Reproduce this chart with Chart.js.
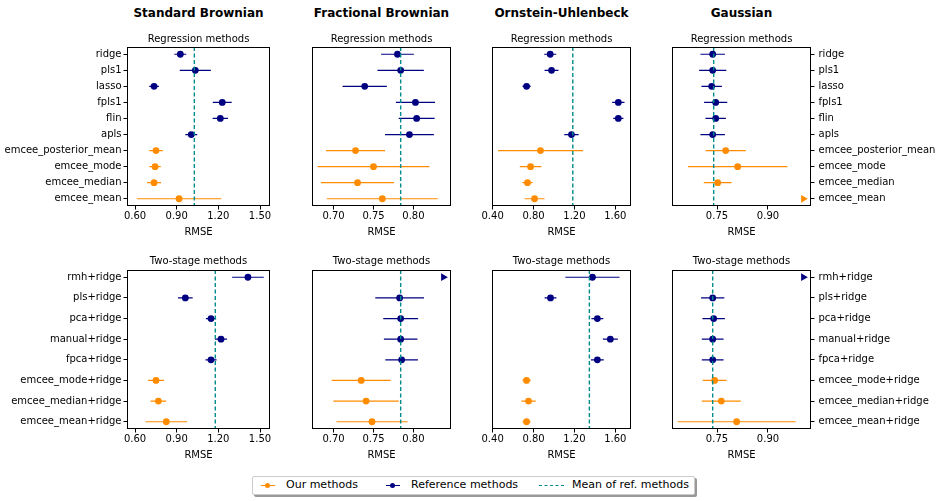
<!DOCTYPE html>
<html>
<head>
<meta charset="utf-8">
<script src="https://cdn.jsdelivr.net/npm/chart.js@4"></script>
<style>
    body { margin: 0; width: 940px; height: 501px; position: relative; overflow: hidden; background: #fff; font-family: 'DejaVu Sans', sans-serif; color: #000; }
    canvas { position: absolute; }
    .col-title { position: absolute; top: 6px; width: 200px; text-align: center; font-weight: bold; font-size: 12px; line-height: 14px; }
    #legend { position: absolute; left: 252px; top: 476px; width: 441px; height: 17px; border: 1px solid #ccc; border-radius: 2px; background: #fff; box-shadow: 2px 2px 0 #999; font-size: 11px; }
    #legend span { position: absolute; top: 1px; line-height: 14px; white-space: nowrap; }
    #legend i { position: absolute; display: block; }
</style>
</head>
<body>
<div id="legend"></div>
<script>
    const regLabels = ['ridge', 'pls1', 'lasso', 'fpls1', 'flin', 'apls', 'emcee_posterior_mean', 'emcee_mode', 'emcee_median', 'emcee_mean'];
    const twoStageLabels = ['rmh+ridge', 'pls+ridge', 'pca+ridge', 'manual+ridge', 'fpca+ridge', 'emcee_mode+ridge', 'emcee_median+ridge', 'emcee_mean+ridge'];
    const processNames = ['Standard Brownian', 'Fractional Brownian', 'Ornstein-Uhlenbeck', 'Gaussian'];

    // mean RMSE and half-width of the error bar; null = beyond the axis (drawn as a ▶ at the edge)
    const sbRegRmse = [0.926, 1.034, 0.737, 1.228, 1.214, 1.005, 0.751, 0.744, 0.737, 0.917];
    const sbRegErr = [0.043, 0.112, 0.035, 0.068, 0.055, 0.043, 0.049, 0.041, 0.050, 0.304];
    const fbRegRmse = [0.780, 0.784, 0.739, 0.8025, 0.804, 0.795, 0.7275, 0.750, 0.730, 0.761];
    const fbRegErr = [0.0205, 0.029, 0.0277, 0.0245, 0.0225, 0.0306, 0.0369, 0.070, 0.0457, 0.0694];
    const ouRegRmse = [0.963, 0.976, 0.732, 1.629, 1.629, 1.171, 0.868, 0.771, 0.741, 0.810];
    const ouRegErr = [0.059, 0.068, 0.040, 0.060, 0.050, 0.070, 0.415, 0.105, 0.050, 0.097];
    const gaRegRmse = [0.7373, 0.7373, 0.7343, 0.7461, 0.7461, 0.7373, 0.7755, 0.8108, 0.752, null];
    const gaRegErr = [0.036, 0.040, 0.030, 0.034, 0.030, 0.036, 0.059, 0.146, 0.041, 0];

    const sbTwoRmse = [1.413, 0.962, 1.147, 1.219, 1.147, 0.751, 0.768, 0.825];
    const sbTwoErr = [0.114, 0.053, 0.037, 0.043, 0.040, 0.057, 0.056, 0.150];
    const fbTwoRmse = [null, 0.7827, 0.784, 0.784, 0.7852, 0.7346, 0.7407, 0.7481];
    const fbTwoErr = [0, 0.0305, 0.0218, 0.021, 0.0204, 0.037, 0.041, 0.0445];
    const ouTwoRmse = [1.376, 0.966, 1.424, 1.551, 1.424, 0.732, 0.751, 0.732];
    const ouTwoErr = [0.265, 0.058, 0.058, 0.073, 0.063, 0.040, 0.070, 0.040];
    const gaTwoRmse = [null, 0.7373, 0.7402, 0.7373, 0.7373, 0.7431, 0.7627, 0.8078];
    const gaTwoErr = [0, 0.0343, 0.033, 0.032, 0.032, 0.035, 0.0574, 0.1735];

    // dashed line: mean of the reference methods
    const regRefMeans = [1.027, 0.784, 1.184, 0.7402];
    const twoRefMeans = [1.178, 0.784, 1.346, 0.7373];

    // x axis per column (shared by both rows)
    const xMin = [0.542, 0.673, 0.394, 0.6176];
    const xMax = [1.572, 0.847, 1.753, 1.0265];
    const xTicks = [[0.60, 0.90, 1.20, 1.50], [0.70, 0.75, 0.80], [0.40, 0.80, 1.20, 1.60], [0.75, 0.90]];

    const ourColor = '#ff8c00';
    const refColor = '#000080';
    const meanColor = '#008b8b';

    Chart.defaults.font.family = "'DejaVu Sans', sans-serif";
    Chart.defaults.font.size = 10;
    Chart.defaults.color = '#000';

    const colBoxes = [
        { left: 0, width: 280, padL: 0, padR: 10, yWidth: 127, yPos: 'left' },
        { left: 290, width: 170, padL: 22, padR: 9, yWidth: 0, yPos: 'left' },
        { left: 470, width: 170, padL: 22, padR: 9, yWidth: 0, yPos: 'left' },
        { left: 650, width: 290, padL: 22, padR: 0, yWidth: 129, yPos: 'right' },
    ];
    const rowBoxes = [
        { top: 27, height: 215, title: 'Regression methods', titleGap: 5.5 },
        { top: 250, height: 215, title: 'Two-stage methods', titleGap: 6.5 },
    ];

    // box round the plot area
    const frame = {
        id: 'frame',
        afterDatasetsDraw(chart) {
            const { ctx, chartArea: a } = chart;
            ctx.save();
            ctx.strokeStyle = '#000';
            ctx.lineWidth = 1;
            ctx.strokeRect(Math.round(a.left) + 0.5, Math.round(a.top) + 0.5, Math.round(a.width) - 1, Math.round(a.height) - 1);
            ctx.restore();
        },
    };

    // panel title centred over the plot area, not the whole canvas
    const panelTitle = {
        id: 'panelTitle',
        afterDraw(chart, args, opts) {
            const { ctx, chartArea: a } = chart;
            ctx.save();
            ctx.font = "10px 'DejaVu Sans', sans-serif";
            ctx.fillStyle = '#000';
            ctx.textAlign = 'center';
            ctx.textBaseline = 'alphabetic';
            ctx.fillText(opts.text, (a.left + a.right) / 2, a.top - opts.gap);
            ctx.restore();
        },
    };

    const makePanel = (col, row, labels, rmse, err, refMean) => {
        const c = colBoxes[col];
        const r = rowBoxes[row];
        const canvas = document.createElement('canvas');
        canvas.width = c.width;
        canvas.height = r.height;
        canvas.style.left = c.left + 'px';
        canvas.style.top = r.top + 'px';
        document.body.appendChild(canvas);

        const lo = xMin[col];
        const hi = xMax[col];
        const yPad = (labels.length - 1) * 0.05;
        const edgeX = hi - 0.055 * (hi - lo);
        const rows = (ours) => labels.map((_, i) => i).filter((i) => labels[i].startsWith('emcee') === ours);

        const bars = (ours) => {
            const pts = [];
            rows(ours).forEach((i) => {
                if (rmse[i] === null) return;
                pts.push({ x: rmse[i] - err[i], y: i }, { x: rmse[i] + err[i], y: i }, { x: rmse[i], y: null });
            });
            return pts;
        };
        const dots = (ours) => rows(ours).filter((i) => rmse[i] !== null).map((i) => ({ x: rmse[i], y: i }));
        const offScale = (ours) => rows(ours).filter((i) => rmse[i] === null).map((i) => ({ x: edgeX, y: i }));

        const dotSet = (ours) => ({
            data: dots(ours),
            pointRadius: 3.4,
            backgroundColor: ours ? ourColor : refColor,
            borderColor: ours ? ourColor : refColor,
            borderWidth: 0,
        });
        const triSet = (ours) => ({
            data: offScale(ours),
            pointStyle: 'triangle',
            rotation: 90,
            pointRadius: 4.5,
            backgroundColor: ours ? ourColor : refColor,
            borderColor: ours ? ourColor : refColor,
            borderWidth: 0,
        });
        const barSet = (ours) => ({
            data: bars(ours),
            showLine: true,
            spanGaps: false,
            pointRadius: 0,
            borderColor: ours ? ourColor : refColor,
            borderWidth: 1.2,
        });

        new Chart(canvas.getContext('2d'), {
            type: 'scatter',
            data: {
                datasets: [
                    {
                        data: [{ x: refMean, y: -yPad }, { x: refMean, y: labels.length - 1 + yPad }],
                        showLine: true,
                        pointRadius: 0,
                        borderColor: meanColor,
                        borderWidth: 1.4,
                        borderDash: [4, 2.5],
                    },
                    dotSet(true),
                    dotSet(false),
                    triSet(true),
                    triSet(false),
                    barSet(true),
                    barSet(false),
                ],
            },
            options: {
                responsive: false,
                animation: false,
                events: [],
                layout: { padding: { left: c.padL, right: c.padR, top: 20, bottom: 0 } },
                plugins: {
                    legend: { display: false },
                    tooltip: { enabled: false },
                    title: { display: false },
                    panelTitle: { text: r.title, gap: r.titleGap },
                },
                scales: {
                    x: {
                        type: 'linear',
                        position: 'bottom',
                        min: lo,
                        max: hi,
                        afterBuildTicks(scale) {
                            scale.ticks = xTicks[col].map((v) => ({ value: v }));
                        },
                        afterFit(scale) {
                            scale.height = 36;
                        },
                        ticks: {
                            callback: (v) => Number(v).toFixed(2),
                            padding: 1,
                            maxRotation: 0,
                            autoSkip: false,
                        },
                        grid: { drawOnChartArea: false, tickLength: 3.5, tickColor: '#000', tickWidth: 1 },
                        border: { display: false },
                        title: { display: true, text: 'RMSE', font: { size: 10 }, padding: { top: 0, bottom: 4 } },
                    },
                    y: {
                        type: 'linear',
                        position: c.yPos,
                        reverse: true,
                        min: -yPad,
                        max: labels.length - 1 + yPad,
                        afterBuildTicks(scale) {
                            scale.ticks = labels.map((_, i) => ({ value: i }));
                        },
                        afterFit(scale) {
                            scale.width = c.yWidth;
                        },
                        ticks: {
                            display: c.yWidth > 0,
                            callback: (v) => labels[v],
                            padding: c.yPos === 'right' ? 4 : 2,
                            autoSkip: false,
                        },
                        grid: { display: c.yWidth > 0, drawOnChartArea: false, tickLength: 3.5, tickColor: '#000', tickWidth: 1 },
                        border: { display: false },
                    },
                },
            },
            plugins: [frame, panelTitle],
        });
    };

    makePanel(0, 0, regLabels, sbRegRmse, sbRegErr, regRefMeans[0]);
    makePanel(1, 0, regLabels, fbRegRmse, fbRegErr, regRefMeans[1]);
    makePanel(2, 0, regLabels, ouRegRmse, ouRegErr, regRefMeans[2]);
    makePanel(3, 0, regLabels, gaRegRmse, gaRegErr, regRefMeans[3]);
    makePanel(0, 1, twoStageLabels, sbTwoRmse, sbTwoErr, twoRefMeans[0]);
    makePanel(1, 1, twoStageLabels, fbTwoRmse, fbTwoErr, twoRefMeans[1]);
    makePanel(2, 1, twoStageLabels, ouTwoRmse, ouTwoErr, twoRefMeans[2]);
    makePanel(3, 1, twoStageLabels, gaTwoRmse, gaTwoErr, twoRefMeans[3]);

    // bold process names over each column
    processNames.forEach((name, col) => {
        const c = colBoxes[col];
        const areaLeft = c.left + c.padL + (c.yPos === 'left' ? c.yWidth : 0);
        const areaRight = c.left + c.width - c.padR - (c.yPos === 'right' ? c.yWidth : 0);
        const div = document.createElement('div');
        div.className = 'col-title';
        div.textContent = name;
        div.style.left = ((areaLeft + areaRight) / 2 - 100) + 'px';
        document.body.appendChild(div);
    });

    // legend
    const legend = document.getElementById('legend');
    legend.innerHTML =
        '<i style="left:8px;top:8px;width:14px;height:1.3px;background:' + ourColor + '"></i>' +
        '<i style="left:12px;top:6px;width:5px;height:5px;border-radius:50%;background:' + ourColor + '"></i>' +
        '<span style="left:33px">Our methods</span>' +
        '<i style="left:133px;top:8px;width:14px;height:1.3px;background:' + refColor + '"></i>' +
        '<i style="left:137px;top:6px;width:5px;height:5px;border-radius:50%;background:' + refColor + '"></i>' +
        '<span style="left:158px">Reference methods</span>' +
        '<i style="left:286px;top:8px;width:25px;height:0;border-top:1.4px dashed ' + meanColor + '"></i>' +
        '<span style="left:319px">Mean of ref. methods</span>';
</script>
</body>
</html>
